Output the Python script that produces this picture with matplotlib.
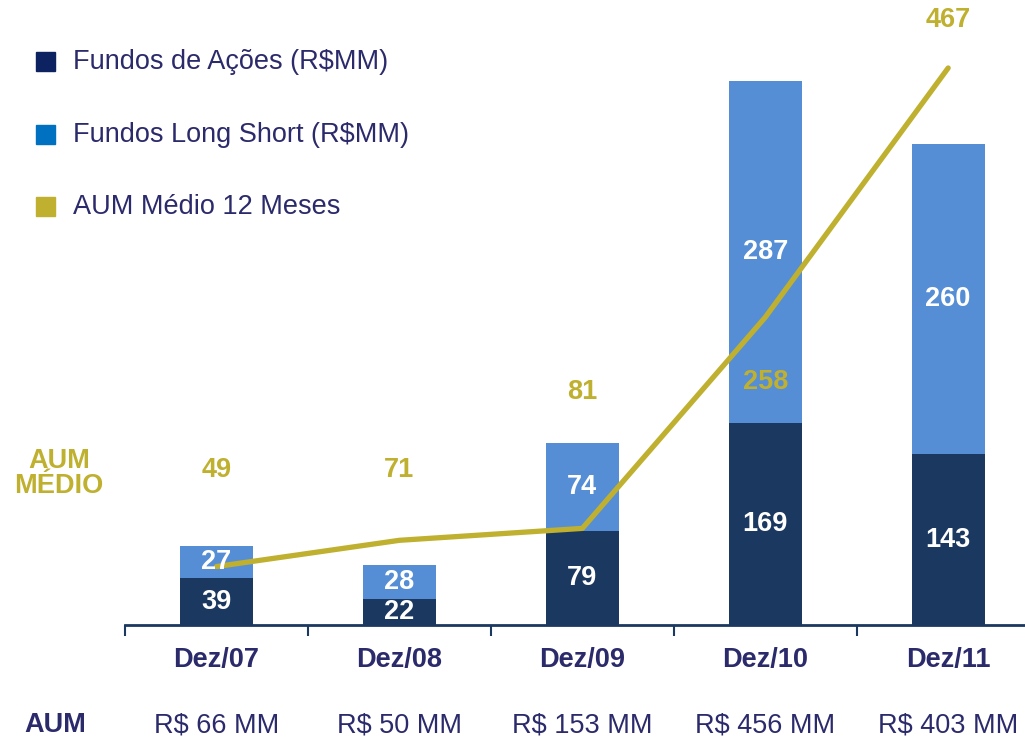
import numpy as np
import matplotlib.pyplot as plt

plt.rcParams['font.family'] = ['Liberation Sans', 'DejaVu Sans']

# data
periodos = ["Dez/07", "Dez/08", "Dez/09", "Dez/10", "Dez/11"]
acoes = [39, 22, 79, 169, 143]
long_short = [27, 28, 74, 287, 260]
aum_medio = [49, 71, 81, 258, 467]
aum_total = ["R$ 66 MM", "R$ 50 MM", "R$ 153 MM", "R$ 456 MM", "R$ 403 MM"]

# heights (data units) where the AUM medio labels sit
label_y = [130, 130, 195, 204, 507]

c_acoes = "#1B3860"
c_ls = "#558ED5"
c_line = "#BFB030"
c_text = "#2B2A6B"
fs = 19.5

fig = plt.figure(figsize=(10.25, 7.4), dpi=100)
ax = fig.add_axes([125/1025, 115/740, 900/1025, 625/740])

x = np.arange(len(periodos))
w = 0.40
ax.bar(x, acoes, w, color=c_acoes, zorder=2)
ax.bar(x, long_short, w, bottom=acoes, color=c_ls, zorder=2)
ax.plot(x, aum_medio, color=c_line, lw=3.8, solid_capstyle='round', zorder=3)

# segment labels
for i in range(len(x)):
    ax.text(x[i], acoes[i] / 2, str(acoes[i]), ha='center', va='center',
            color='white', fontsize=fs, fontweight='bold', zorder=4)
    ax.text(x[i], acoes[i] + long_short[i] / 2, str(long_short[i]), ha='center',
            va='center', color='white', fontsize=fs, fontweight='bold', zorder=4)
    ax.text(x[i], label_y[i], str(aum_medio[i]), ha='center', va='center',
            color=c_line, fontsize=fs, fontweight='bold', zorder=4)
    ax.text(x[i], -29, periodos[i], ha='center', va='center', color=c_text,
            fontsize=fs, fontweight='bold', clip_on=False)
    ax.text(x[i], -84, aum_total[i], ha='center', va='center', color=c_text,
            fontsize=fs, clip_on=False)

ax.text(-0.86, 127, "AUM\nMÉDIO", ha='center', va='center', color=c_line,
        fontsize=fs, fontweight='bold', linespacing=0.95, clip_on=False)
ax.text(-0.88, -84, "AUM", ha='center', va='center', color=c_text,
        fontsize=fs, fontweight='bold', clip_on=False)

ax.set_xlim(-0.5, 4.42)
ax.set_ylim(0, 524)
for s in ['top', 'right', 'left']:
    ax.spines[s].set_visible(False)
ax.spines['bottom'].set_color(c_acoes)
ax.spines['bottom'].set_linewidth(2)
ax.set_yticks([])
ax.set_xticks([])
ax.set_xticks(np.arange(-0.5, 4, 1), minor=True)
ax.tick_params(axis='x', which='minor', length=8, width=1.5, color=c_acoes,
               direction='out', labelbottom=False)

# legend
legend_items = [("Fundos de Ações (R$MM)", "#0D2260"),
                ("Fundos Long Short (R$MM)", "#0070C0"),
                ("AUM Médio 12 Meses", c_line)]
for k, (lab, col) in enumerate(legend_items):
    yy = 1 - (62 + 72.5 * k) / 740
    fig.patches.append(plt.Rectangle((36/1025, yy - 9/740), 19/1025, 19/740,
                                     transform=fig.transFigure, color=col))
    fig.text(73/1025, yy, lab, ha='left', va='center', color=c_text, fontsize=fs)

fig.savefig("out.png", dpi=100)
